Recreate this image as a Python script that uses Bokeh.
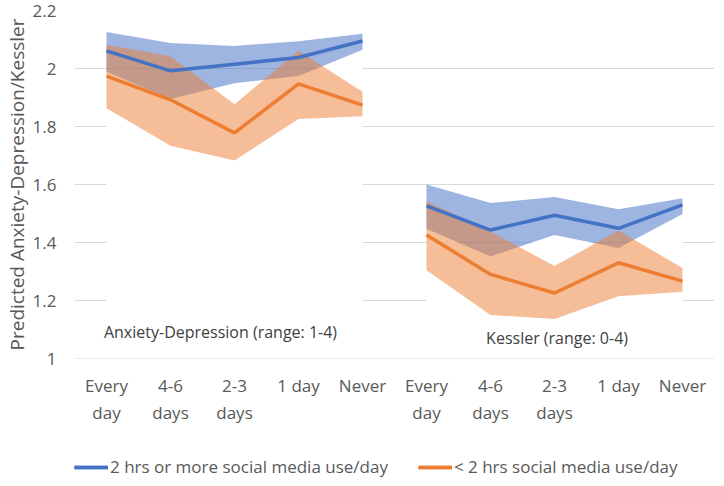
from bokeh.plotting import figure
from bokeh.layouts import column
from bokeh.models import (ColumnDataSource, Legend, LegendItem, FixedTicker,
                          NumeralTickFormatter, Label, Span)
from bokeh.embed import file_html
from bokeh.resources import INLINE

categories = ["Every\nday", "4-6\ndays", "2-3\ndays", "1 day", "Never"]
panels = ["Anxiety-Depression (range: 1-4)", "Kessler (range: 0-4)"]
series_names = ["2 hrs or more social media use/day", "< 2 hrs social media use/day"]

# Anxiety-Depression panel
ad_high_mean = [2.061, 1.992, 2.015, 2.038, 2.095]
ad_high_upper = [2.126, 2.088, 2.078, 2.094, 2.120]
ad_high_lower = [1.989, 1.895, 1.949, 1.974, 2.065]
ad_low_mean = [1.974, 1.892, 1.778, 1.947, 1.874]
ad_low_upper = [2.082, 2.042, 1.877, 2.061, 1.920]
ad_low_lower = [1.863, 1.734, 1.683, 1.826, 1.835]
# Kessler panel
k_high_mean = [1.526, 1.443, 1.494, 1.449, 1.530]
k_high_upper = [1.600, 1.536, 1.557, 1.515, 1.553]
k_high_lower = [1.447, 1.352, 1.426, 1.381, 1.498]
k_low_mean = [1.426, 1.290, 1.226, 1.330, 1.267]
k_low_upper = [1.542, 1.438, 1.319, 1.441, 1.312]
k_low_lower = [1.304, 1.150, 1.136, 1.215, 1.230]

y_ticks = [1, 1.2, 1.4, 1.6, 1.8, 2, 2.2]

BLUE = "#4472C4"
ORANGE = "#ED7D31"
FONT = "Open Sans"
GRID = "#d9d9d9"
TXT = "#595959"

p = figure(width=716, height=440, x_range=(-0.5, 9.5), y_range=(1, 2.2),
           output_backend="svg", toolbar_location=None,
           min_border_top=10, min_border_right=2, min_border_left=0,
           min_border_bottom=82)
p.outline_line_color = None
p.background_fill_color = "white"
p.border_fill_color = "white"
p.xgrid.grid_line_color = None
p.ygrid.grid_line_color = GRID
p.ygrid.ticker = FixedTicker(ticks=y_ticks)

panel_data = [
    (ad_high_mean, ad_high_upper, ad_high_lower, ad_low_mean, ad_low_upper, ad_low_lower),
    (k_high_mean, k_high_upper, k_high_lower, k_low_mean, k_low_upper, k_low_lower),
]

sources = []
for pi, (hm, hu, hl, lm, lu, ll) in enumerate(panel_data):
    xs = [pi * len(categories) + i for i in range(len(categories))]
    src = ColumnDataSource(dict(x=xs, hm=hm, hu=hu, hl=hl, lm=lm, lu=lu, ll=ll,
                                base=[y_ticks[0]] * len(xs)))
    sources.append(src)
    # white "stacked" base areas hide gridlines
    p.varea(x="x", y1="base", y2="hl", source=src, fill_color="white")
    p.varea(x="x", y1="base", y2="ll", source=src, fill_color="white")
    p.varea(x="x", y1="hl", y2="hu", source=src, fill_color=BLUE, fill_alpha=0.52)
    p.varea(x="x", y1="ll", y2="lu", source=src, fill_color=ORANGE, fill_alpha=0.5)
    p.line(x="x", y="hm", source=src, line_color=BLUE, line_width=3.5)
    p.line(x="x", y="lm", source=src, line_color=ORANGE, line_width=3.5)

p.add_layout(Span(location=y_ticks[0], dimension="width", line_color=GRID, line_width=1))

p.add_layout(Label(x=-0.04, y=1.093, text=panels[0], text_align="left",
                   text_baseline="middle", text_font=FONT, text_font_size="16px",
                   text_color="#404040"))
p.add_layout(Label(x=7.04, y=1.069, text=panels[1], text_align="center",
                   text_baseline="middle", text_font=FONT, text_font_size="16px",
                   text_color="#404040"))

# axes
p.yaxis.ticker = FixedTicker(ticks=y_ticks)
p.yaxis.formatter = NumeralTickFormatter(format="0.[0]")
p.yaxis.axis_label = "Predicted Anxiety-Depression/Kessler"
p.yaxis.axis_label_text_font = FONT
p.yaxis.axis_label_text_font_style = "normal"
p.yaxis.axis_label_text_font_size = "19px"
p.yaxis.axis_label_text_color = TXT
p.yaxis.axis_label_standoff = 0
p.yaxis.major_label_text_font = FONT
p.yaxis.major_label_text_font_size = "17px"
p.yaxis.major_label_text_color = TXT
p.yaxis.major_label_standoff = 12

p.xaxis.ticker = FixedTicker(ticks=list(range(2 * len(categories))))
p.xaxis.major_label_overrides = {i: categories[i % len(categories)]
                                 for i in range(2 * len(categories))}
p.xaxis.major_label_text_font = FONT
p.xaxis.major_label_text_font_size = "17px"
p.xaxis.major_label_text_color = TXT
p.xaxis.major_label_standoff = 9

for ax in (p.xaxis, p.yaxis):
    ax.axis_line_color = None
    ax.major_tick_line_color = None
    ax.minor_tick_line_color = None

# legend strip (series lines lie outside this strip's view; only the legend shows)
q = figure(width=716, height=38, x_range=(-0.5, 9.5), y_range=(0, 0.5),
           output_backend="svg", toolbar_location=None,
           x_axis_type=None, y_axis_type=None, min_border=0)
q.outline_line_color = None
q.xgrid.grid_line_color = None
q.ygrid.grid_line_color = None
r_high = [q.line(x="x", y="hm", source=s, line_color=BLUE, line_width=3.5) for s in sources]
r_low = [q.line(x="x", y="lm", source=s, line_color=ORANGE, line_width=3.5) for s in sources]
legend = Legend(items=[LegendItem(label=series_names[0], renderers=r_high),
                       LegendItem(label=series_names[1], renderers=r_low)],
                orientation="horizontal", location=(0, 0),
                label_text_font=FONT, label_text_font_size="17px",
                label_text_color=TXT, glyph_width=34, spacing=30,
                label_standoff=2, border_line_color=None,
                background_fill_alpha=0, margin=0, padding=4)
q.add_layout(legend, "center")

layout = column(p, q, spacing=0)
open("out.html", "w").write(file_html(layout, INLINE))
